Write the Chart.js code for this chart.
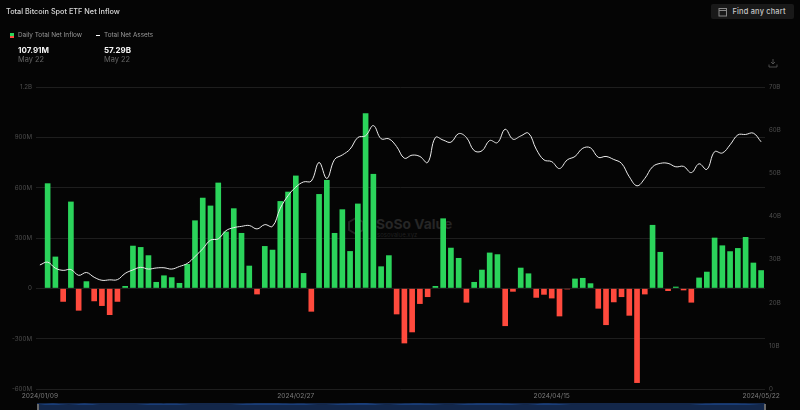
<!DOCTYPE html>
<html>
<head>
<meta charset="utf-8">
<title>Total Bitcoin Spot ETF Net Inflow</title>
<script src="https://cdn.jsdelivr.net/npm/chart.js@4"></script>
<style>
    html, body { margin: 0; padding: 0; background: #050505; }
    body { width: 800px; height: 410px; position: relative; overflow: hidden; font-family: Inter, "Noto Sans", sans-serif; }
    .txt { position: absolute; white-space: nowrap; line-height: 1; }
    #mainWrap { position: absolute; left: 0; top: 0; width: 800px; height: 410px; }
    #navWrap { position: absolute; left: 37px; top: 403px; width: 728px; height: 7px; background: #13274a; }
    .handle { position: absolute; top: 404px; width: 2px; height: 6px; background: #6a6a6a; }
</style>
</head>
<body>
<!-- watermark sits behind the transparent canvas -->
<svg style="position:absolute;left:348px;top:217px" width="16" height="18" viewBox="0 0 16 18">
    <polygon points="8,1 15,5 15,13 8,17 1,13 1,5" fill="none" stroke="#222" stroke-width="2"/>
</svg>
<div class="txt" style="left:376px;top:218px;font-size:13.8px;font-weight:700;color:#262626;">SoSo Value</div>
<div class="txt" style="left:377px;top:232px;font-size:6px;color:#202020;">sosovalue.xyz</div>

<div id="mainWrap"><canvas id="mainChart" width="800" height="410"></canvas></div>
<div id="navWrap"><canvas id="navChart" width="728" height="7"></canvas></div>
<div class="handle" style="left:37px;"></div>
<div class="handle" style="left:764px;"></div>

<div class="txt" style="left:6px;top:8px;font-size:7.3px;font-weight:500;color:#d8d8d8;">Total Bitcoin Spot ETF Net Inflow</div>

<div style="position:absolute;left:10px;top:33px;width:4px;height:2.5px;background:#2bd45b;"></div>
<div style="position:absolute;left:10px;top:35.5px;width:4px;height:2.5px;background:#ff4a3d;"></div>
<div class="txt" style="left:18px;top:32px;font-size:6.4px;color:#9a9a9a;">Daily Total Net Inflow</div>
<div style="position:absolute;left:96px;top:35px;width:4px;height:1px;background:#fff;"></div>
<div class="txt" style="left:104px;top:32px;font-size:6.4px;color:#9a9a9a;">Total Net Assets</div>

<div class="txt" style="left:18px;top:46px;font-size:8px;font-weight:700;color:#f5f5f5;">107.91M</div>
<div class="txt" style="left:18px;top:56px;font-size:7.4px;color:#666;">May 22</div>
<div class="txt" style="left:104px;top:46px;font-size:8px;font-weight:700;color:#f5f5f5;">57.29B</div>
<div class="txt" style="left:104px;top:56px;font-size:7.4px;color:#666;">May 22</div>

<div style="position:absolute;left:711px;top:4px;width:83px;height:15px;background:#191919;border-radius:2px;"></div>
<svg style="position:absolute;left:718px;top:7px" width="10" height="10" viewBox="0 0 10 10">
    <rect x="1" y="1.5" width="7.5" height="7.5" fill="none" stroke="#888" stroke-width="1"/>
    <line x1="1" y1="3.5" x2="8.5" y2="3.5" stroke="#888" stroke-width="1"/>
</svg>
<div class="txt" style="left:732.5px;top:8px;font-size:7.4px;font-weight:500;letter-spacing:0.2px;color:#c8c8c8;">Find any chart</div>

<svg style="position:absolute;left:768px;top:58px" width="10" height="10" viewBox="0 0 10 10">
    <path d="M5 1 V6 M3 4 L5 6 L7 4 M1 6.5 V9 H9 V6.5" fill="none" stroke="#555" stroke-width="0.9"/>
</svg>

<script>
    const dates = ['2024/01/09', '2024/02/27', '2024/04/15', '2024/05/22'];
    const dateIndexes = [0, 33, 66, 93];

    // Daily net inflow in millions, first day has no bar
    const netInflow = [
        null, 626, 189, -80, 517, -133, 42, -77, -105, -159,
        -80, 14, 254, 246, 197, 38, 77, 66, 32, 145,
        405, 540, 493, 630, 338, 477, 330, 135, -36, 252,
        230, 520, 576, 672, 91, -139, 562, 646, 330, 471,
        222, 505, 1043, 682, 131, 197, -155, -328, -262, -93,
        -52, 14, 417, 242, 181, -85, 38, 111, 213, 203,
        -225, -20, 123, 89, -56, -38, -60, -167, -6, 58,
        62, 30, -121, -219, -83, -52, -163, -564, -36, 378,
        217, -16, 10, -12, -85, 64, 99, 302, 256, 221,
        240, 306, 153, 108
    ];

    // Total net assets in billions
    const netAssets = [
        28.75, 29.4, 28.0, 27.5, 27.7, 26.35, 27.0, 25.9, 25.2, 25.3,
        25.35, 26.8, 27.6, 28.2, 27.8, 28.05, 28.1, 27.8, 28.4, 29.1,
        30.7, 32.5, 34.5, 34.8, 36.7, 37.4, 37.7, 37.9, 37.1, 38.1,
        37.7, 41.9, 44.8, 46.8, 48.0, 48.2, 52.5, 48.8, 53.2, 54.25,
        55.6, 58.3, 58.7, 61.05, 58.0, 58.0, 56.2, 53.5, 54.2, 53.9,
        52.5, 58.3, 57.7, 57.2, 59.2, 58.3, 55.25, 55.2, 57.6, 57.1,
        60.2, 57.9, 58.65, 59.3, 55.6, 53.1, 52.7, 51.1, 53.1, 53.9,
        55.8, 55.9, 53.7, 53.9, 53.2, 52.3, 49.2, 47.1, 48.8, 51.5,
        52.3, 52.3, 51.5, 51.6, 50.15, 52.2, 50.9, 55.0, 54.7, 56.6,
        58.9, 59.0, 59.3, 57.29
    ];

    const inflowTicks = { '-600': '-600M', '-300': '-300M', '0': '0', '300': '300M', '600': '600M', '900': '900M', '1200': '1.2B' };

    // Little range slider strip under the chart, samples read from left to right
    const navValues = [
        0, 3, 0, 3, 0, 0, 0, 2, 2, 2, 0, 0, 0, 2, 3, 3, 2, 2, 0, 2, 3, 3, 0, 2, 3, 2,
        0, 2, 3, 3, 2, 0, 3, 2, 0, 0, 0, 0, 0, 0, 0, 0, 2, 3, 3, 2, 0
    ];

    const GREEN = '#2bd45b';
    const RED = '#ff4a3d';
    const labels = netInflow.map((v, i) => {
        const pos = dateIndexes.indexOf(i);
        return pos >= 0 ? dates[pos] : '';
    });

    new Chart(document.getElementById('mainChart').getContext('2d'), {
        type: 'bar',
        data: {
            labels: labels,
            datasets: [
                {
                    type: 'line',
                    label: 'Total Net Assets',
                    data: netAssets,
                    yAxisID: 'y1',
                    borderColor: '#ececec',
                    borderWidth: 1,
                    pointRadius: 0,
                    tension: 0.4,
                    fill: false,
                    order: 1,
                },
                {
                    label: 'Daily Total Net Inflow',
                    data: netInflow,
                    yAxisID: 'y',
                    backgroundColor: (c) => (c.raw < 0 ? RED : GREEN),
                    barPercentage: 0.73,
                    categoryPercentage: 1,
                    order: 2,
                },
            ],
        },
        options: {
            responsive: false,
            animation: false,
            layout: { padding: { top: 87 } },
            plugins: { legend: { display: false }, tooltip: { enabled: false } },
            scales: {
                x: {
                    grid: { display: false, drawTicks: false },
                    border: { display: false },
                    afterFit: (axis) => { axis.height = 21; },
                    ticks: {
                        autoSkip: false,
                        maxRotation: 0,
                        padding: 3,
                        color: '#7a7a7a',
                        font: { family: 'Inter', size: 6.6 },
                    },
                },
                y: {
                    position: 'left',
                    min: -600,
                    max: 1200,
                    afterFit: (axis) => { axis.width = 36; },
                    grid: { color: '#1e1e1e', lineWidth: 1, drawTicks: false },
                    border: { display: false },
                    ticks: {
                        stepSize: 300,
                        padding: 4,
                        color: '#4e4e4e',
                        font: { family: 'Inter', size: 6.2 },
                        callback: (v) => inflowTicks[v],
                    },
                },
                y1: {
                    position: 'right',
                    min: 0,
                    max: 70,
                    afterFit: (axis) => { axis.width = 35; },
                    grid: { display: false, drawTicks: false },
                    border: { display: false },
                    ticks: {
                        stepSize: 10,
                        padding: 4,
                        color: '#4e4e4e',
                        font: { family: 'Inter', size: 6.2 },
                        callback: (v) => (v === 0 ? '0' : v + 'B'),
                    },
                },
            },
        },
    });

    new Chart(document.getElementById('navChart').getContext('2d'), {
        type: 'line',
        data: {
            labels: navValues.map((v, i) => i),
            datasets: [{
                data: navValues,
                borderWidth: 0,
                backgroundColor: '#1c4688',
                pointRadius: 0,
                tension: 0.3,
                fill: 'origin',
            }],
        },
        options: {
            responsive: false,
            animation: false,
            layout: { padding: 0 },
            plugins: { legend: { display: false }, tooltip: { enabled: false } },
            scales: {
                x: { display: false },
                y: { display: false, min: -12, max: 4 },
            },
        },
    });
</script>
</body>
</html>
